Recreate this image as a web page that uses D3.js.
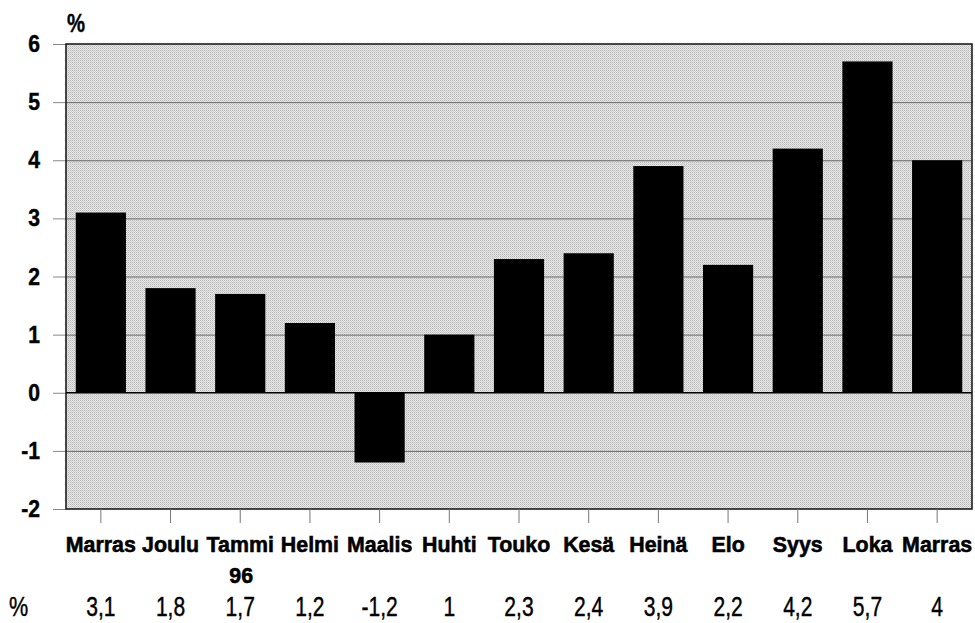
<!DOCTYPE html>
<html>
<head>
<meta charset="utf-8">
<script src="https://cdn.jsdelivr.net/npm/d3@7"></script>
<style>
  html, body { margin: 0; padding: 0; background: #fff; }
  svg { display: block; }
  .cat { font-family: "Liberation Sans", Arial, sans-serif; font-weight: bold; font-size: 23px; fill: #000; stroke: #000; stroke-width: 0.6px; }
  .ylab { font-family: "Liberation Sans", Arial, sans-serif; font-weight: bold; font-size: 23px; fill: #000; stroke: #000; stroke-width: 0.4px; }
  .val { font-family: "Liberation Sans", Arial, sans-serif; font-size: 27px; fill: #000; stroke: #000; stroke-width: 0.4px; }
</style>
</head>
<body>
<script>
// ---- data ----
const categories = ["Marras", "Joulu", "Tammi", "Helmi", "Maalis", "Huhti", "Touko", "Kesä", "Heinä", "Elo", "Syys", "Loka", "Marras"];
const subLabels = ["", "", "96", "", "", "", "", "", "", "", "", "", ""];
const values = [3.1, 1.8, 1.7, 1.2, -1.2, 1, 2.3, 2.4, 3.9, 2.2, 4.2, 5.7, 4];
const valueLabels = ["3,1", "1,8", "1,7", "1,2", "-1,2", "1", "2,3", "2,4", "3,9", "2,2", "4,2", "5,7", "4"];
const yTicks = [-2, -1, 0, 1, 2, 3, 4, 5, 6];
const unitLabel = "%";

// ---- layout ----
const W = 975, H = 623;
const mLeft = 66, mRight = 972, mTop = 44, mBottom = 509;

const svg = d3.select("body").append("svg").attr("width", W).attr("height", H);

const defs = svg.append("defs");
const pat = defs.append("pattern").attr("id", "stip").attr("patternUnits", "userSpaceOnUse")
  .attr("width", 2).attr("height", 2);
pat.append("rect").attr("width", 2).attr("height", 2).attr("fill", "#e8e8e8");
pat.append("rect").attr("x", 0).attr("y", 0).attr("width", 1).attr("height", 1).attr("fill", "#b8b8b8");
pat.append("rect").attr("x", 1).attr("y", 1).attr("width", 1).attr("height", 1).attr("fill", "#cdcdcd");

const x = d3.scaleBand().domain(d3.range(categories.length)).range([mLeft, mRight]).paddingInner(0.28).paddingOuter(0.14);
const y = d3.scaleLinear().domain([-2, 6]).range([mBottom, mTop]);
const bw = x.bandwidth();
const cx = i => x(i) + bw / 2;

// condensed text helper: places text at (px, py) with horizontal squeeze sx
function placed(sel, px, py, sx) {
  return sel.attr("x", 0).attr("y", 0)
    .attr("transform", (d, i) => `translate(${typeof px === "function" ? px(d, i) : px},${typeof py === "function" ? py(d, i) : py}) scale(${sx},1)`);
}

// background
svg.append("rect").attr("x", mLeft).attr("y", mTop).attr("width", mRight - mLeft).attr("height", mBottom - mTop)
  .attr("fill", "url(#stip)");

// gridlines + left ticks
const gy = svg.append("g");
gy.append("g").selectAll("line").data(yTicks.filter(d => d !== 0 && d !== 6 && d !== -2)).join("line")
  .attr("x1", mLeft).attr("x2", mRight).attr("y1", d => y(d) + 0.5).attr("y2", d => y(d) + 0.5)
  .attr("stroke", "#6a6a6a").attr("stroke-width", 1);
gy.append("g").selectAll("line").data(yTicks).join("line")
  .attr("x1", 53).attr("x2", mLeft).attr("y1", d => y(d) + 0.5).attr("y2", d => y(d) + 0.5)
  .attr("stroke", "#888").attr("stroke-width", 1);

// bars
svg.append("g").selectAll("rect").data(values).join("rect")
  .attr("x", (d, i) => x(i))
  .attr("y", d => y(Math.max(0, d)))
  .attr("width", bw)
  .attr("height", d => Math.abs(y(d) - y(0)))
  .attr("fill", "#000");

// zero line
svg.append("line").attr("x1", mLeft).attr("x2", mRight).attr("y1", y(0)).attr("y2", y(0))
  .attr("stroke", "#000").attr("stroke-width", 1.5);

// frame
svg.append("rect").attr("x", mLeft).attr("y", mTop).attr("width", mRight - mLeft).attr("height", mBottom - mTop)
  .attr("fill", "none").attr("stroke", "#111").attr("stroke-width", 1.5);

// x ticks (below)
svg.append("g").selectAll("line").data(categories).join("line")
  .attr("x1", (d, i) => cx(i)).attr("x2", (d, i) => cx(i))
  .attr("y1", mBottom).attr("y2", mBottom + 14)
  .attr("stroke", "#777").attr("stroke-width", 1);

// y labels
placed(svg.append("g").selectAll("text").data(yTicks).join("text")
  .attr("class", "ylab").attr("text-anchor", "end").text(d => d),
  40, d => y(d) + 8, 0.92);

// unit label top
placed(svg.append("text").datum(unitLabel).attr("class", "ylab").style("font-size", "26px").text(d => d),
  67, 32, 0.78);

// category labels
placed(svg.append("g").selectAll("text").data(categories).join("text")
  .attr("class", "cat").attr("text-anchor", "middle").text(d => d),
  (d, i) => cx(i), 552, 0.93);
placed(svg.append("g").selectAll("text").data(subLabels).join("text")
  .attr("class", "cat").attr("text-anchor", "middle").text(d => d),
  (d, i) => cx(i) + 1, 583, 0.93);

// value row
placed(svg.append("text").datum(unitLabel).attr("class", "val").text(d => d), 9, 616, 0.8);
placed(svg.append("g").selectAll("text").data(valueLabels).join("text")
  .attr("class", "val").attr("text-anchor", "middle").text(d => d),
  (d, i) => cx(i), 616, 0.78);
</script>
</body>
</html>
